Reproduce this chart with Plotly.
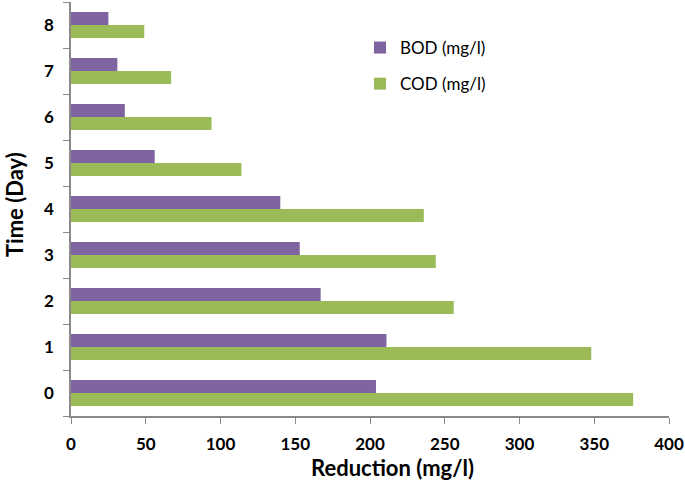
import plotly.graph_objects as go

days = ["0", "1", "2", "3", "4", "5", "6", "7", "8"]
bod = [204, 211, 167, 153, 140, 56, 36, 31, 25]
cod = [376, 348, 256, 244, 236, 114, 94, 67, 49]
x_ticks = [0, 50, 100, 150, 200, 250, 300, 350, 400]

FONT = "Lato"
fig = go.Figure()
fig.add_trace(go.Bar(y=days, x=cod, orientation="h", name="COD (mg/l)",
                     marker=dict(color="#9BBB59", line=dict(width=0)),
                     legendgroup="c", legendrank=2))
fig.add_trace(go.Bar(y=days, x=bod, orientation="h", name="BOD (mg/l)",
                     marker=dict(color="#8064A2", line=dict(width=0)),
                     legendgroup="b", legendrank=1))

fig.update_layout(
    width=685, height=485,
    margin=dict(l=71, r=16, t=2, b=69),
    paper_bgcolor="white", plot_bgcolor="white",
    barmode="group", bargap=0.43, bargroupgap=0,
    font=dict(family=FONT, color="black"),
    legend=dict(x=(360 - 71) / 598, y=1 - (30 - 2) / 414, xanchor="left", yanchor="top",
                tracegroupgap=11, font=dict(size=17, family=FONT),
                bgcolor="rgba(0,0,0,0)"),
    xaxis=dict(range=[0, 400], tickvals=x_ticks, showgrid=False, zeroline=False,
               showline=True, linecolor="#8a8a8a", linewidth=1.5, automargin=False,
               ticks="outside", ticklen=6, tickcolor="#8a8a8a", ticklabelstandoff=6,
               tickfont=dict(size=17, family=FONT, weight="bold")),
    yaxis=dict(type="category", categoryorder="array", categoryarray=days,
               showgrid=False, zeroline=False, showline=True, linecolor="#8a8a8a", linewidth=1.5,
               ticks="outside", ticklen=6, tickcolor="#8a8a8a", tickson="boundaries",
               automargin=False, ticklabelstandoff=12,
               tickfont=dict(size=17, family=FONT, weight="bold")),
    annotations=[
        dict(text="Reduction (mg/l)", xref="paper", yref="paper",
             x=(392 - 71) / 598, y=-(467 - 416) / 414, xanchor="center", yanchor="middle",
             showarrow=False, font=dict(size=22, family=FONT, weight="bold")),
        dict(text="Time (Day)", xref="paper", yref="paper", textangle=-90,
             x=-(71 - 15) / 598, y=1 - (205 - 2) / 414, xanchor="center", yanchor="middle",
             showarrow=False, font=dict(size=22, family=FONT, weight="bold")),
    ],
)
fig.write_html("out.html", config={"displayModeBar": False},
               post_script="document.body.style.margin='0';")
